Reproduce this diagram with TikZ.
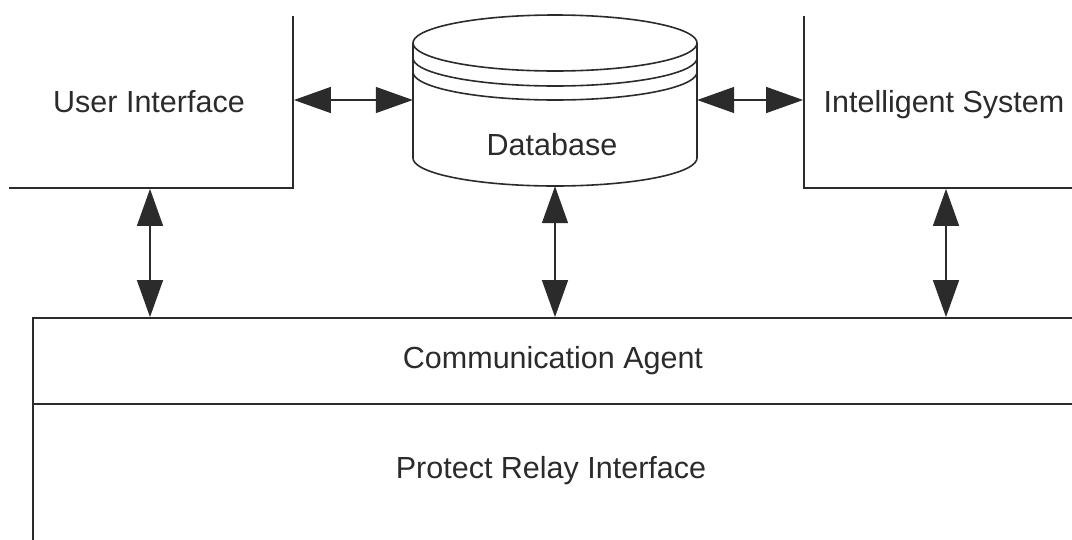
\documentclass[tikz,border=0pt]{standalone}
\usepackage{fontspec}
\setmainfont{Liberation Sans}
\usetikzlibrary{arrows.meta}
\definecolor{ink}{HTML}{2B2B2B}
\tikzset{
  box/.style={draw=ink, line width=1.8pt, rectangle, inner sep=0pt},
  shell/.style={rectangle, inner sep=0pt},
  cyl/.style={draw=ink, line width=1.6pt, line join=round},
  label text/.style={text=ink, anchor=base, inner sep=0pt, font=\fontsize{30.5}{36}\selectfont},
  biarrow/.style={draw=ink, line width=1.4pt,
    {Triangle[length=37pt,width=26pt]}-{Triangle[length=37pt,width=26pt]}}
}
\begin{document}
\begin{tikzpicture}[x=1pt, y=-1pt]
\useasboundingbox (0,0) rectangle (1072,539);

% framed blocks, partly running off the page
\begin{scope}
  \clip (9,16) rectangle (1072,539);
  \node[box, minimum width=286pt, minimum height=176pt] (ui) at (150,100) {};
  \node[box, minimum width=284pt, minimum height=176pt] (is) at (946,100) {};
  \node[box, minimum width=1134pt, minimum height=86pt] (ca) at (600,361) {};
  \node[box, minimum width=1134pt, minimum height=192pt] (pri) at (600,500) {};
\end{scope}

% database cylinder
\node[shell, minimum width=284pt, minimum height=172pt] (db) at (555,100) {};
\draw[cyl] plot[domain=0:360, samples=73, smooth] ({555+142*cos(\x)}, {43+28*sin(\x)});
\draw[cyl] plot[domain=0:180, samples=37, smooth] ({555+142*cos(\x)}, {58+28*sin(\x)});
\draw[cyl] plot[domain=0:180, samples=37, smooth] ({555+142*cos(\x)}, {72+28*sin(\x)});
\draw[cyl] (db.west |- 0,43) -- (db.west |- 0,158);
\draw[cyl] (db.east |- 0,43) -- (db.east |- 0,158);
\draw[cyl] plot[domain=0:180, samples=37, smooth] ({555+142*cos(\x)}, {158+28*sin(\x)});

% texts
\node[label text] (uitext) at (149,112) {User Interface};
\node[label text] (istext) at (944,112) {Intelligent System};
\node[label text] (dbtext) at (552,155) {Database};
\node[label text] (catext) at (553,368) {Communication Agent};
\node[label text] (pritext) at (551,478) {Protect Relay Interface};

% connectors
\draw[biarrow] (ui.east) -- (db.west);
\draw[biarrow] (db.east) -- (is.west);
\draw[biarrow] (ui.south) -- (ui.south |- ca.north);
\draw[biarrow] (db.south) -- (db.south |- ca.north);
\draw[biarrow] (is.south) -- (is.south |- ca.north);
\end{tikzpicture}
\end{document}
